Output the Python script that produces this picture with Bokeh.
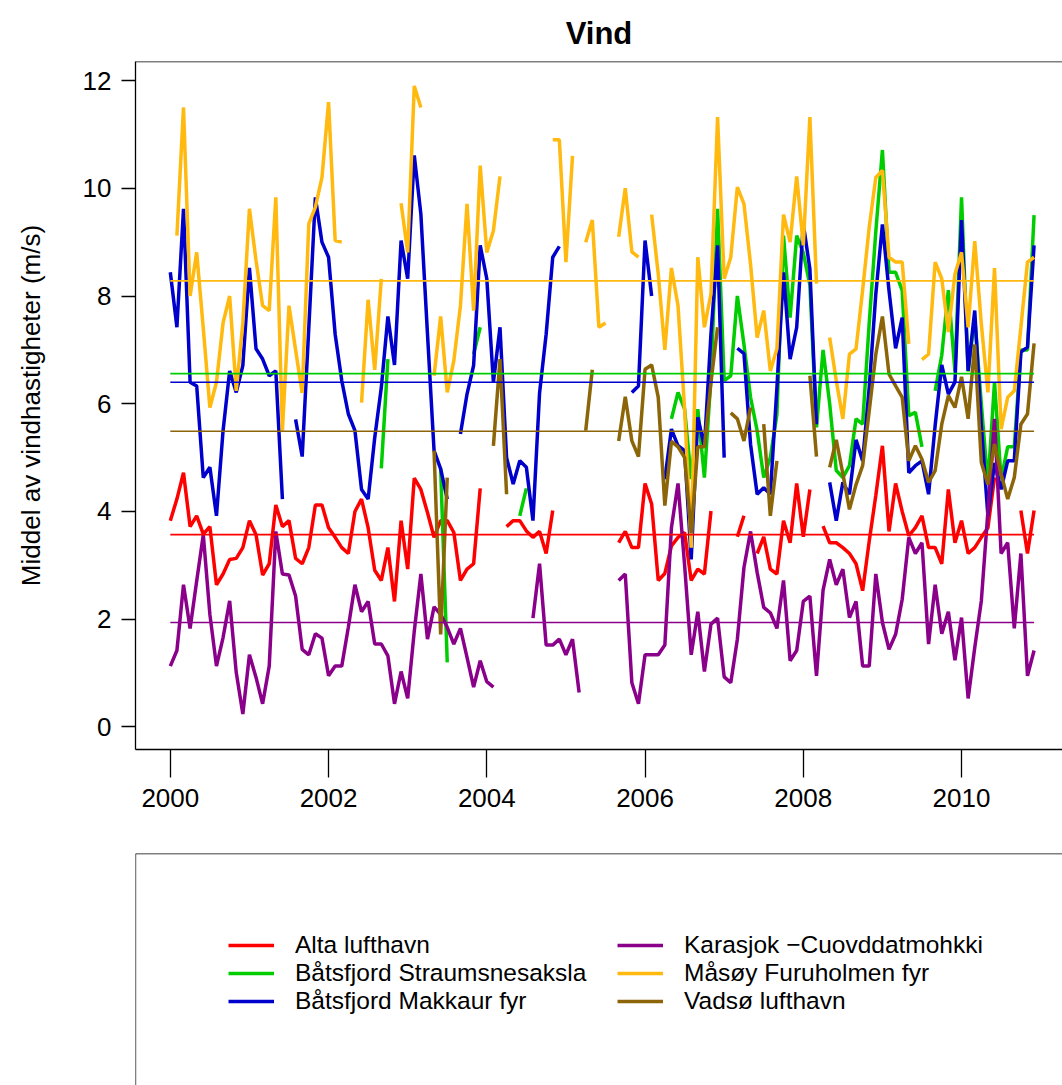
import math
from bokeh.plotting import figure
from bokeh.models import Span, Legend, LegendItem, FixedTicker
from bokeh.layouts import column
from bokeh.embed import file_html
from bokeh.resources import INLINE

N = None
# monthly index Jan 2000 .. Dec 2010
months = [2000 + i / 12 for i in range(132)]

alta = [3.83, 4.23, 4.72, 3.72, 3.92, 3.58, 3.72, 2.64, 2.84, 3.11, 3.13, 3.33,
        3.83, 3.57, 2.82, 3.03, 4.12, 3.72, 3.83, 3.13, 3.03, 3.33, 4.12, 4.12,
        3.70, 3.52, 3.33, 3.22, 4.00, 4.23, 3.70, 2.91, 2.72, 3.33, 2.33, 3.83,
        2.93, 4.62, 4.41, 3.98, 3.52, 3.83, 3.83, 3.61, 2.72, 2.93, 3.03, 4.43,
        N, N, N, 3.72, 3.83, 3.83, 3.64, 3.52, 3.63, 3.22, 4.02, N,
        N, N, N, N, N, N, N, N, 3.42, 3.63, 3.33, 3.33,
        4.52, 4.14, 2.72, 2.85, 3.36, 3.52, 3.61, 2.72, 2.93, 2.84, 4.01, N,
        N, N, 3.53, 3.92, N, 3.22, 3.53, 2.93, 2.84, 3.83, 3.42, 4.52,
        3.53, 4.41, N, 3.73, 3.42, 3.42, 3.33, 3.22, 3.03, 2.53, 3.45, 4.30,
        5.22, 3.63, 4.52, 4.00, 3.55, 3.70, 3.92, 3.33, 3.33, 3.03, 4.41, 3.42,
        3.83, 3.22, 3.33, 3.52, 3.70, 4.63, N, N, N, 4.02, 3.22, 4.02]

straumsnesaksla = [N] * 32 + [4.80, 6.83] + [N] * 7 + [4.80, 1.20] + [N] * 3 + [6.92, 7.42] + [N] * 5 + \
    [3.92, 4.43] + [N] * 21 + \
    [5.72, 6.21, 5.90, 4.60, 5.90, 4.63, 6.50, 9.62,
     6.43, 6.52, 8.00, 7.10, 6.12, 5.50, 4.63, 5.00, 5.80, 9.12, 7.60, 9.12,
     8.80, 8.20, 5.56, 7.00, 6.00, 4.76, 4.63, 4.85, 5.72, 5.62, 7.50, 9.20,
     10.71, 8.44, 8.44, 8.10, 5.78, 5.84, 5.20, N, 6.24, 6.90, 8.11, 6.60,
     9.83, 6.60, 7.60, 6.00, 4.50, 6.40, 4.60, 5.20, 5.20, 7.00, 7.00, 9.50]

makkaur = [8.44, 7.42, 9.62, 6.40, 6.33, 4.63, 4.82, 3.92, 5.50, 6.61, 6.21, 6.71,
           8.52, 7.02, 6.83, 6.52, 6.61, 4.23, N, 5.71, 5.02, 7.40, 9.83, 9.00,
           8.72, 7.29, 6.43, 5.81, 5.50, 4.41, 4.23, 5.37, 6.30, 7.62, 6.72, 9.03,
           8.32, 10.61, 9.52, 7.30, 5.13, 4.79, 4.23, N, 5.44, 6.18, 6.71, 8.94,
           8.32, 6.40, 7.42, 5.00, 4.51, 4.94, 4.82, 3.83, 6.20, 7.29, 8.72, 8.92,
           N, N, N, N, N, N, N, N, N, N, 6.21, 6.33,
           9.03, 8.00, N, 4.60, 5.53, 5.22, 5.13, 3.11, 5.75, 5.20, 7.30, 8.94,
           5.00, N, 7.03, 6.93, 5.25, 4.32, 4.44, 4.32, 6.30, 8.44, 6.83, 7.42,
           9.34, 8.50, 5.62, N, 4.54, 3.83, 4.54, 4.32, 5.33, 4.94, 6.30, 8.04,
           9.33, 8.10, 7.03, 7.60, 4.72, 4.85, 4.94, 4.32, 5.60, 6.72, 6.18, 6.40,
           9.41, 6.61, 7.73, 5.60, 3.92, 4.90, 4.41, 4.94, 4.94, 6.96, 7.05, 8.94]

karasjok = [1.13, 1.42, 2.64, 1.83, 2.71, 3.57, 2.09, 1.13, 1.66, 2.34, 1.01, 0.24,
            1.34, 0.92, 0.43, 1.13, 3.63, 2.84, 2.82, 2.43, 1.44, 1.34, 1.73, 1.65,
            0.95, 1.13, 1.13, 1.85, 2.64, 2.14, 2.33, 1.54, 1.54, 1.32, 0.43, 1.03,
            0.53, 1.78, 2.84, 1.63, 2.23, 2.09, 1.85, 1.54, 1.83, 1.29, 0.74, 1.23,
            0.84, 0.74, N, N, N, N, N, 2.02, 3.03, 1.52, 1.52, 1.63,
            1.34, 1.63, 0.64, N, N, N, N, N, 2.72, 2.84, 0.82, 0.43,
            1.34, 1.34, 1.34, 1.52, 3.70, 4.52, 3.00, 1.34, 2.14, 1.03, 1.91, 2.02,
            0.93, 0.82, 1.63, 2.96, 3.63, 2.87, 2.22, 2.12, 1.83, 2.72, 1.23, 1.42,
            2.33, 2.43, 0.95, 2.54, 3.11, 2.64, 2.93, 2.03, 2.33, 1.13, 1.13, 2.84,
            1.94, 1.44, 1.72, 2.37, 3.52, 3.22, 3.42, 1.54, 2.64, 1.73, 2.14, 1.24,
            2.03, 0.53, 1.47, 2.34, 4.00, 5.72, 3.22, 3.42, 1.83, 3.22, 0.95, 1.42]

masoy = [N, 9.12, 11.50, 8.00, 8.81, 7.40, 5.93, 6.40, 7.50, 8.00, 6.24, 7.50,
         9.62, 8.66, 7.82, 7.73, 9.83, 5.50, 7.82, 7.00, 6.20, 9.34, 9.65, 10.20,
         11.60, 9.03, 9.00, N, N, 6.02, 7.93, 6.63, 8.32, N, N, 9.72,
         8.81, 11.90, 11.50, N, 6.52, 7.62, 6.21, 6.80, 7.82, 9.71, 7.73, 10.42,
         8.81, 9.21, 10.22, N, N, N, N, N, N, N, 10.90, 10.90,
         8.63, 10.60, N, 9.00, 9.41, 7.42, 7.50, N, 9.10, 10.00, 8.82, 8.72,
         N, 9.51, 8.41, 7.00, 8.52, 7.82, 5.90, 3.33, 8.72, 7.42, 8.04, 11.32,
         8.32, 8.72, 10.02, 9.71, 8.59, 7.23, 7.73, 6.61, 7.02, 9.51, 9.00, 10.22,
         8.94, 11.32, 8.23, N, 7.23, 6.43, 5.72, 6.92, 7.02, 8.11, 9.28, 10.20,
         10.33, 8.72, 8.63, 8.63, 7.11, N, 6.82, 6.92, 8.63, 8.32, 7.33, 8.41,
         8.81, 7.42, 9.02, 7.48, 6.21, 8.52, 5.53, 6.12, 6.24, 7.42, 8.63, 8.72]

vadso = [N] * 40 + [5.13, 1.72, 4.63] + [N] * 6 + [5.22, 6.83, 4.32] + [N] * 11 + [5.50, 6.63] + [N] * 3 + \
    [5.31, 6.13, 5.31, 5.02, 6.64, 6.72, 6.12, 4.11, 5.30, 5.20, 5.00, 3.60,
     5.20, 5.20, 6.40, 7.42, N, 5.83, 5.72, 5.31, 5.93, N, 5.62, 3.92,
     4.94, N, N, N, N, 6.52, 5.02, N, 4.82, 5.33, 4.70, 4.04,
     4.50, 4.85, 5.87, 6.92, 7.62, 6.55, 6.33, 6.12, 4.94, 5.22, 4.97, 4.54,
     4.76, 5.62, 6.15, 5.93, 6.50, 5.72, 7.10, 4.91, 4.50, 5.25, 4.70, 4.23,
     4.63, 5.62, 5.81, 7.12]

names = ["Alta lufthavn", "Båtsfjord Straumsnesaksla", "Båtsfjord Makkaur fyr",
         "Karasjok \u2212Cuovddatmohkki", "Måsøy Furuholmen fyr", "Vadsø lufthavn"]
colors = ["#FF0000", "#00CD00", "#0000CD", "#8B008B", "#FFB90F", "#8B6508"]
series = [alta, straumsnesaksla, makkaur, karasjok, masoy, vadso]
means = [3.57, 6.56, 6.40, 1.94, 8.28, 5.49]

x_ticks = [2000, 2002, 2004, 2006, 2008, 2010]
y_ticks = [0, 2, 4, 6, 8, 10, 12]

FONT = "Liberation Sans"
X0, X1 = 1999.560, 2011.276
Y0, Y1 = -0.418, 12.353

p = figure(width=1062, height=830, x_range=(X0, X1), y_range=(Y0, Y1),
           output_backend="svg", toolbar_location=None,
           min_border_left=135, min_border_right=0, min_border_top=61, min_border_bottom=81)
p.outline_line_color = None
p.xgrid.visible = False
p.ygrid.visible = False

p.title.text = "Vind"
p.title.text_font = FONT
p.title.text_font_size = "31px"
p.title.text_font_style = "bold"
p.title.text_color = "black"
p.title.align = "center"
p.title.offset = 4
p.title.standoff = 21

for ax in (p.xaxis[0], p.yaxis[0]):
    ax.axis_line_color = "black"
    ax.axis_line_width = 1.3
    ax.major_tick_line_color = "black"
    ax.major_tick_line_width = 1.3
    ax.major_tick_in = 0
    ax.minor_tick_line_color = None
    ax.major_label_text_font = FONT
    ax.major_label_text_font_size = "26px"
    ax.major_label_text_color = "black"

p.xaxis.ticker = FixedTicker(ticks=x_ticks)
p.xaxis.major_tick_out = 28
p.xaxis.major_label_standoff = 11
p.yaxis.ticker = FixedTicker(ticks=y_ticks)
p.yaxis.major_tick_out = 14
p.yaxis.major_label_standoff = 10
p.yaxis.major_label_orientation = "horizontal"
p.yaxis.axis_label = "Middel av vindhastigheter (m/s)"
p.yaxis.axis_label_text_font = FONT
p.yaxis.axis_label_text_font_size = "26px"
p.yaxis.axis_label_text_font_style = "normal"
p.yaxis.axis_label_text_color = "black"
p.yaxis.axis_label_standoff = 34

p.add_layout(Span(location=Y1, dimension="width", line_color="black", line_width=1.3))

def clean(vals):
    return [float("nan") if v is None else v for v in vals]

for vals, col in zip(series, colors):
    p.line(months, clean(vals), line_color=col, line_width=3.5)
for m, col in zip(means, colors):
    p.line(months, [m] * len(months), line_color=col, line_width=1.6)

# legend panel
q = figure(width=1062, height=255, x_range=(0, 1), y_range=(0, 1),
           output_backend="svg", toolbar_location=None,
           min_border_left=135, min_border_right=0, min_border_top=23, min_border_bottom=0)
q.outline_line_color = None
q.xaxis.visible = False
q.yaxis.visible = False
q.xgrid.visible = False
q.ygrid.visible = False
q.add_layout(Span(location=0, dimension="height", line_color="black", line_width=1.3))
q.add_layout(Span(location=1, dimension="width", line_color="black", line_width=1.3))

# legend glyph renderers (placed off-range; only their legend swatches are seen)
rends = [q.line([-5, -4], [-5, -5], line_color=c, line_width=3.5) for c in colors]

def make_legend(idx, xoff):
    lg = Legend(items=[LegendItem(label=names[i], renderers=[rends[i]]) for i in idx],
                location=(xoff, 70), orientation="vertical",
                glyph_width=46, glyph_height=28, label_height=28, label_standoff=21,
                spacing=0, padding=0, margin=0,
                border_line_color=None, background_fill_alpha=0,
                label_text_font=FONT, label_text_font_size="24.5px",
                label_text_color="black")
    q.add_layout(lg, "center")

make_legend([0, 1, 2], 93)
make_legend([3, 4, 5], 482)

layout = column(p, q, spacing=0)
open("out.html", "w").write(file_html(layout, INLINE))
